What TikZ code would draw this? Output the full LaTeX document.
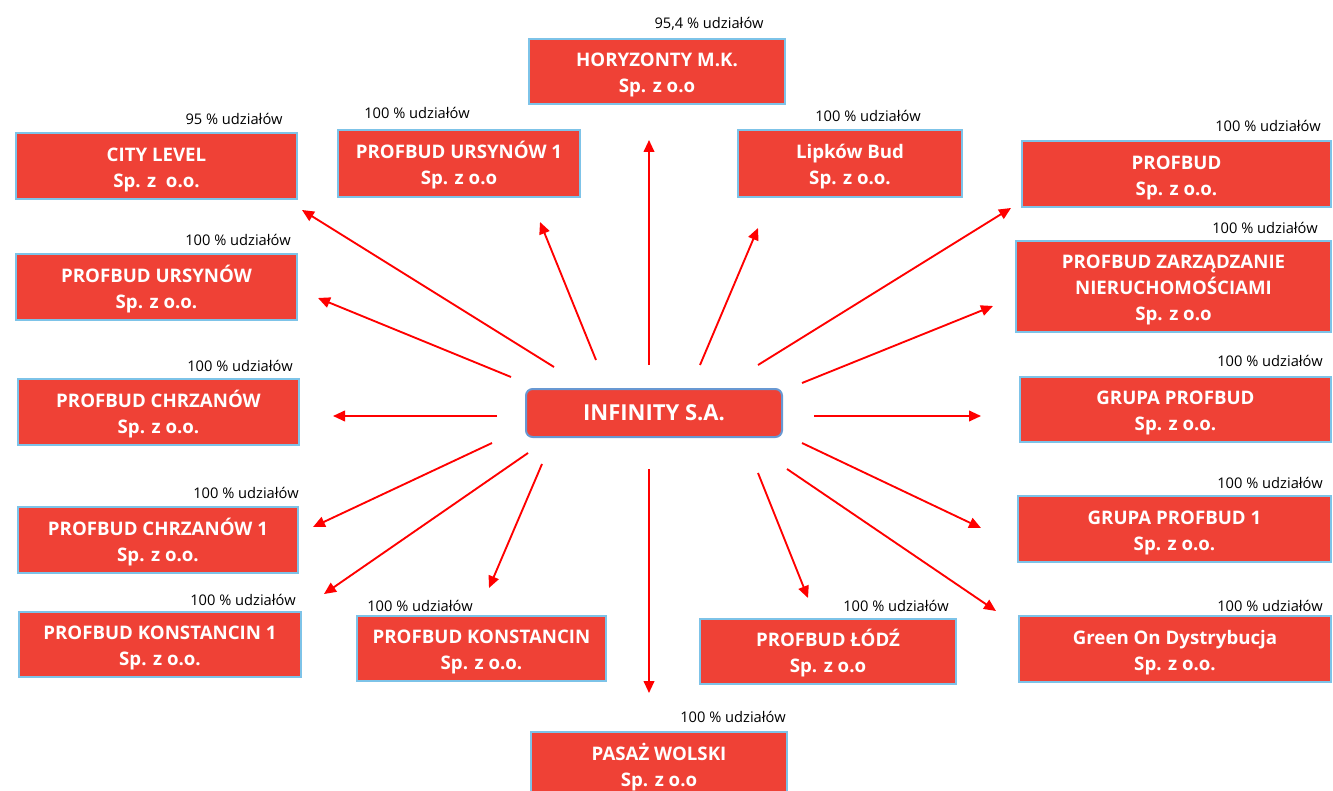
\documentclass[tikz,border=0pt]{standalone}
\usepackage{fontspec}
\setmainfont{Open Sans}
\usetikzlibrary{arrows.meta}
\definecolor{boxred}{RGB}{239,65,54}
\definecolor{boxedge}{RGB}{125,195,232}
\definecolor{mainedge}{RGB}{104,152,210}
\definecolor{arrred}{RGB}{255,0,0}
\tikzset{
  box/.style={fill=boxred, draw=boxedge, line width=1pt, inner sep=0pt,
    text=white, font=\fontsize{14}{19.5}\selectfont\bfseries},
  mainbox/.style={fill=boxred, draw=mainedge, line width=1.5pt, rounded corners=5pt, inner sep=0pt,
    text=white, font=\fontsize{16.5}{20}\selectfont\bfseries, text height=11.8pt, text depth=0pt},
  share/.style={font=\fontsize{11}{13}\selectfont, text=black, inner sep=0pt, yshift=-1.5pt},
  link/.style={draw=arrred, line width=1.4pt, -{Triangle[length=9pt,width=8pt]}},
}
\newcommand{\bx}[5]{\node[box, minimum width={#3*0.75pt}, minimum height={#4*0.75pt}] (#1) at (#2)
  {\raisebox{-2.4pt}[\height][\depth]{\begin{tabular}{@{}c@{}}#5\end{tabular}}};}
\begin{document}
\begin{tikzpicture}[x=0.75pt,y=-0.75pt]
\clip (0,0) rectangle (1333,791);
\fill[white] (0,0) rectangle (1333,791);

% central node
\node[mainbox, minimum width={256*0.75pt}, minimum height={48*0.75pt}] (inf) at (654,413) {INFINITY S.A.};

% subsidiaries
\bx{hor}{657,71.5}{256}{65}{HORYZONTY M.K.\\Sp. z o.o}
\bx{city}{156.5,166}{281}{66}{CITY LEVEL\\Sp. z\ \ o.o.}
\bx{urs1}{459,163.5}{242}{67}{PROFBUD URSYNÓW 1\\Sp. z o.o}
\bx{lip}{850,163.5}{224}{67}{Lipków Bud\\Sp. z o.o.}
\bx{prof}{1176.5,174}{309}{66}{PROFBUD\\Sp. z o.o.}
\bx{urs}{156.5,287}{281}{66}{PROFBUD URSYNÓW\\Sp. z o.o.}
\bx{zarz}{1173.5,286.5}{315}{91}{PROFBUD ZARZĄDZANIE\\NIERUCHOMOŚCIAMI\\Sp. z o.o}
\bx{chrz}{158.5,412}{281}{66}{PROFBUD CHRZANÓW\\Sp. z o.o.}
\bx{grupa}{1175.5,409.5}{311}{65}{GRUPA PROFBUD\\Sp. z o.o.}
\bx{chrz1}{158,540}{280}{66}{PROFBUD CHRZANÓW 1\\Sp. z o.o.}
\bx{grupa1}{1174.5,529}{313}{66}{GRUPA PROFBUD 1\\Sp. z o.o.}
\bx{kon1}{160,644.5}{282}{65}{PROFBUD KONSTANCIN 1\\Sp. z o.o.}
\bx{kon}{481.5,648.5}{249}{65}{PROFBUD KONSTANCIN\\Sp. z o.o.}
\bx{lodz}{828,651.5}{256}{65}{PROFBUD ŁÓDŹ\\Sp. z o.o}
\bx{green}{1175,649}{312}{66}{Green On Dystrybucja\\Sp. z o.o.}
\bx{pasaz}{659,765}{256}{66}{PASAŻ WOLSKI\\Sp. z o.o}

% share labels
\node[share] (lhor) at (709,22) {95,4 \% udziałów};
\node[share] (lcity) at (234,117) {95 \% udziałów};
\node[share] (lurs1) at (417,111) {100 \% udziałów};
\node[share] (llip) at (868,114) {100 \% udziałów};
\node[share] (lprof) at (1268,124) {100 \% udziałów};
\node[share] (lurs) at (238,238) {100 \% udziałów};
\node[share] (lzarz) at (1265,226) {100 \% udziałów};
\node[share] (lchrz) at (240,364) {100 \% udziałów};
\node[share] (lgrupa) at (1270,359) {100 \% udziałów};
\node[share] (lchrz1) at (246,491) {100 \% udziałów};
\node[share] (lgrupa1) at (1270,481) {100 \% udziałów};
\node[share] (lkon1) at (243,598) {100 \% udziałów};
\node[share] (lkon) at (420,604) {100 \% udziałów};
\node[share] (llodz) at (896,604) {100 \% udziałów};
\node[share] (lgreen) at (1270,604) {100 \% udziałów};
\node[share] (lpasaz) at (733,715) {100 \% udziałów};

% arrow end points
\coordinate (s-hor) at (649,365);   \coordinate (e-hor) at (649,140);
\coordinate (s-city) at (554,367);  \coordinate (e-city) at (302,210);
\coordinate (s-urs1) at (596,360);  \coordinate (e-urs1) at (540,222);
\coordinate (s-lip) at (700,365);   \coordinate (e-lip) at (758,228);
\coordinate (s-prof) at (758,365);  \coordinate (e-prof) at (1011,208);
\coordinate (s-urs) at (511,377);   \coordinate (e-urs) at (318,298);
\coordinate (s-zarz) at (802,383);  \coordinate (e-zarz) at (993,306);
\coordinate (s-chrz) at (497,416);  \coordinate (e-chrz) at (333,416);
\coordinate (s-grupa) at (814,416); \coordinate (e-grupa) at (981,416);
\coordinate (s-chrz1) at (492,443); \coordinate (e-chrz1) at (313,527);
\coordinate (s-grupa1) at (802,443);\coordinate (e-grupa1) at (981,528);
\coordinate (s-kon1) at (528,453);  \coordinate (e-kon1) at (324,594);
\coordinate (s-kon) at (542,464);   \coordinate (e-kon) at (489,588);
\coordinate (s-lodz) at (758,473);  \coordinate (e-lodz) at (808,598);
\coordinate (s-green) at (787,469); \coordinate (e-green) at (996,611);
\coordinate (s-pasaz) at (649,469); \coordinate (e-pasaz) at (649,693);

\foreach \n in {hor,city,urs1,lip,prof,urs,zarz,chrz,grupa,chrz1,grupa1,kon1,kon,lodz,green,pasaz}
  \draw[link] (s-\n) -- (e-\n);
\end{tikzpicture}
\end{document}
